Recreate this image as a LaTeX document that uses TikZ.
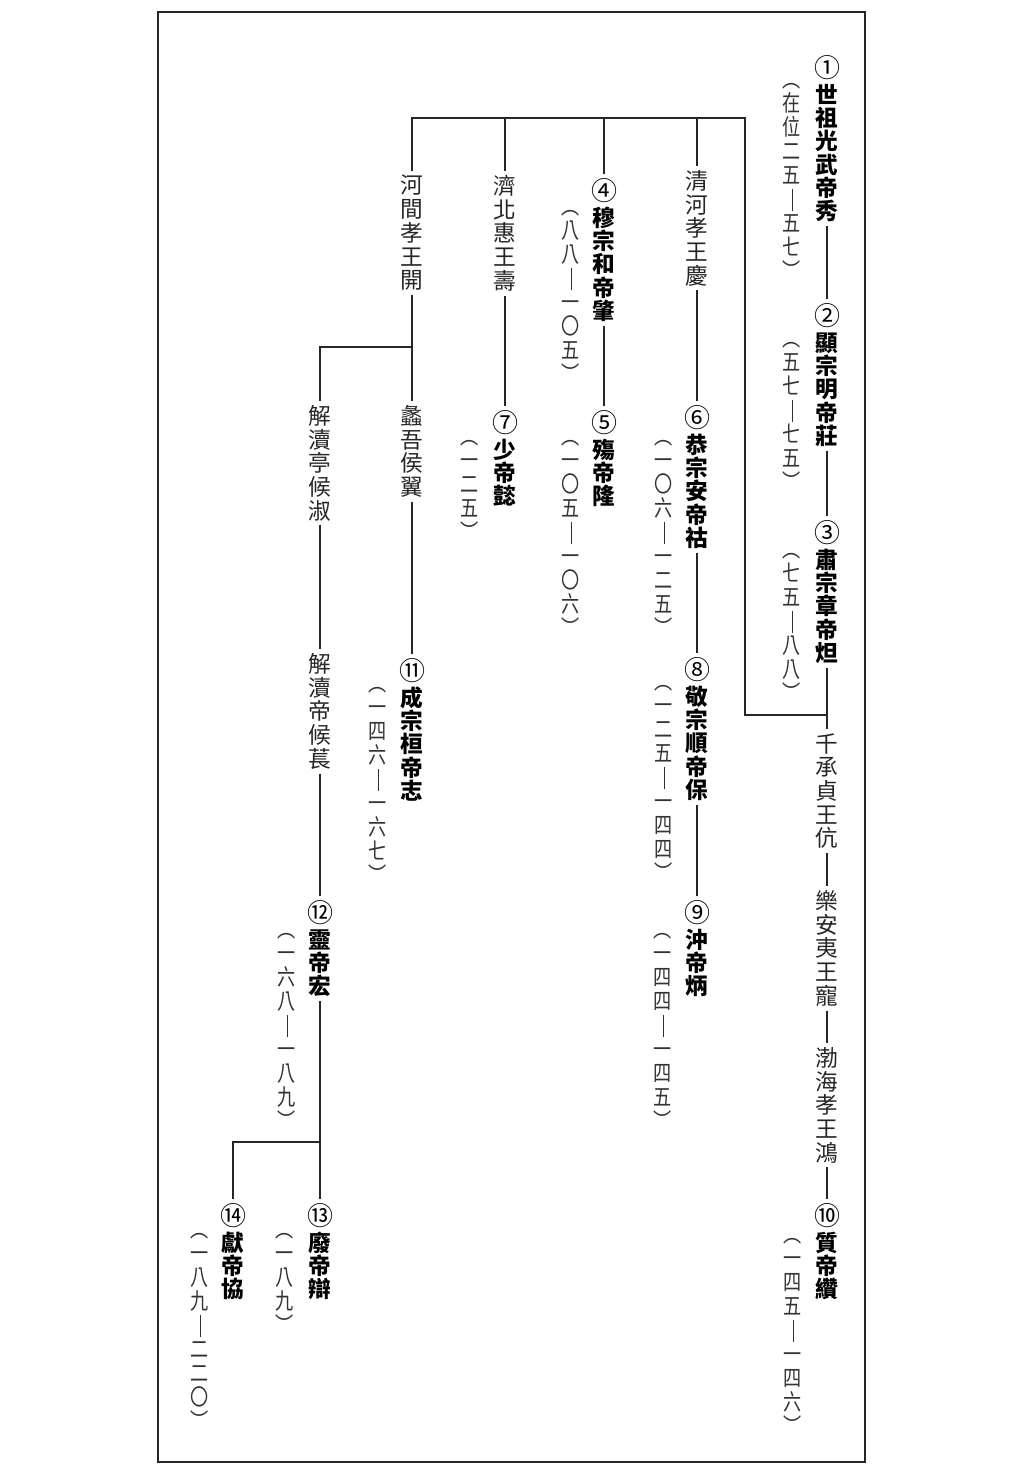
\documentclass[tikz,border=0pt]{standalone}
\usepackage{fontspec}
\newfontfamily\cjk{Noto Sans CJK TC}
\newfontfamily\cjkn[FakeStretch=0.8]{Noto Sans CJK TC}
\newcommand\circnum[1]{{\mdseries\fontsize{19.5}{17.5}\selectfont #1}\\[2pt]}
\newcommand\yrdash{\rule[-3pt]{0.7pt}{17pt}}

\tikzset{
  emp/.style={anchor=north, align=center, inner xsep=1pt, inner ysep=3pt, font=\cjk\bfseries\fontsize{17}{17.5}\selectfont},
  kin/.style={anchor=north, align=center, inner xsep=1pt, inner ysep=3pt, font=\cjk\fontsize{17}{17.8}\selectfont, text=black!85},
  yrs/.style={anchor=north, align=center, inner xsep=1pt, inner ysep=3pt, font=\cjkn\fontsize{17}{18}\selectfont, text=black!80},
  link/.style={line width=0.9pt, black!85},
}

\begin{document}
\begin{tikzpicture}[x=0.75pt, y=-0.75pt]
\useasboundingbox (0,0) rectangle (1024,1474);
\draw[line width=1.6pt, black!85] (158,12) rectangle (865,1462);

\node[emp] (e1) at (827,51) {\circnum{①}世\\祖\\光\\武\\帝\\秀};
\node[emp] (e2) at (827,299) {\circnum{②}顯\\宗\\明\\帝\\莊};
\node[emp] (e3) at (827,516) {\circnum{③}肅\\宗\\章\\帝\\炟};
\node[kin] (qiancheng) at (827,729) {千\\承\\貞\\王\\伉};
\node[kin] (lean) at (827,886) {樂\\安\\夷\\王\\寵};
\node[kin] (bohai) at (827,1043) {渤\\海\\孝\\王\\鴻};
\node[emp] (e10) at (827,1199) {\circnum{⑩}質\\帝\\纘};
\node[yrs] (d1) at (792,79) {︵\\在\\位\\二\\五\\\yrdash\\五\\七\\︶};
\node[yrs] (d2) at (792,338) {︵\\五\\七\\\yrdash\\七\\五\\︶};
\node[yrs] (d3) at (792,549) {︵\\七\\五\\\yrdash\\八\\八\\︶};
\node[yrs] (d10) at (793,1234) {︵\\一\\四\\五\\\yrdash\\一\\四\\六\\︶};

\node[kin] (qinghe) at (697,166) {清\\河\\孝\\王\\慶};
\node[emp] (e6) at (697,401) {\circnum{⑥}恭\\宗\\安\\帝\\祜};
\node[emp] (e8) at (697,653) {\circnum{⑧}敬\\宗\\順\\帝\\保};
\node[emp] (e9) at (697,896) {\circnum{⑨}沖\\帝\\炳};
\node[yrs] (d6) at (664,436) {︵\\一\\〇\\六\\\yrdash\\一\\二\\五\\︶};
\node[yrs] (d8) at (664,681) {︵\\一\\二\\五\\\yrdash\\一\\四\\四\\︶};
\node[yrs] (d9) at (663,929) {︵\\一\\四\\四\\\yrdash\\一\\四\\五\\︶};

\node[emp] (e4) at (604,174) {\circnum{④}穆\\宗\\和\\帝\\肇};
\node[emp] (e5) at (604,406) {\circnum{⑤}殤\\帝\\隆};
\node[yrs] (d4) at (571,206) {︵\\八\\八\\\yrdash\\一\\〇\\五\\︶};
\node[yrs] (d5) at (571,436) {︵\\一\\〇\\五\\\yrdash\\一\\〇\\六\\︶};

\node[kin] (jibei) at (505,171) {濟\\北\\惠\\王\\壽};
\node[emp] (e7) at (505,406) {\circnum{⑦}少\\帝\\懿};
\node[yrs] (d7) at (470,436) {︵\\一\\二\\五\\︶};

\node[kin] (hejian) at (412,171) {河\\間\\孝\\王\\開};
\node[kin] (liwu) at (412,401) {蠡\\吾\\侯\\翼};
\node[emp] (e11) at (412,654) {\circnum{⑪}成\\宗\\桓\\帝\\志};
\node[yrs] (d11) at (378,683) {︵\\一\\四\\六\\\yrdash\\一\\六\\七\\︶};

\node[kin] (jiedu) at (320,401) {解\\瀆\\亭\\候\\淑};
\node[kin] (jieduhou) at (320,649) {解\\瀆\\帝\\候\\萇};
\node[emp] (e12) at (320,896) {\circnum{⑫}靈\\帝\\宏};
\node[yrs] (d12) at (287,929) {︵\\一\\六\\八\\\yrdash\\一\\八\\九\\︶};
\node[emp] (e13) at (320,1199) {\circnum{⑬}廢\\帝\\辯};
\node[yrs] (d13) at (285,1229) {︵\\一\\八\\九\\︶};
\node[emp] (e14) at (233,1199) {\circnum{⑭}獻\\帝\\協};
\node[yrs] (d14) at (200,1229) {︵\\一\\八\\九\\\yrdash\\二\\二\\〇\\︶};

\coordinate (br) at (827,715);
\coordinate (tr) at (745,118);
\coordinate (hj) at (412,347);
\coordinate (lj) at (320,1142);

\draw[link] (e1) -- (e2);
\draw[link] (e2) -- (e3);
\draw[link] (e3) -- (qiancheng);
\draw[link] (qiancheng) -- (lean);
\draw[link] (lean) -- (bohai);
\draw[link] (bohai) -- (e10);
\draw[link] (br) -| (tr) -| (hejian.north);
\draw[link] (qinghe.north) -- (qinghe.north |- tr);
\draw[link] (e4.north) -- (e4.north |- tr);
\draw[link] (jibei.north) -- (jibei.north |- tr);
\draw[link] (qinghe) -- (e6);
\draw[link] (e6) -- (e8);
\draw[link] (e8) -- (e9);
\draw[link] (e4) -- (e5);
\draw[link] (jibei) -- (e7);
\draw[link] (hejian) -- (liwu);
\draw[link] (hj) -| (jiedu.north);
\draw[link] (liwu) -- (e11);
\draw[link] (jiedu) -- (jieduhou);
\draw[link] (jieduhou) -- (e12);
\draw[link] (e12) -- (e13);
\draw[link] (lj) -| (e14.north);
\end{tikzpicture}
\end{document}
